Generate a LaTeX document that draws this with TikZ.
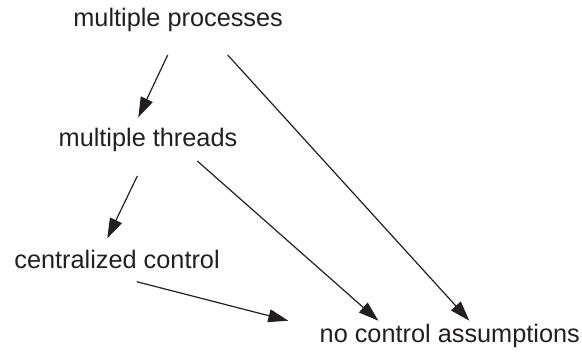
\documentclass[tikz,border=0pt]{standalone}
\usepackage{fontspec}
\setmainfont{Liberation Sans}
\usepackage{tikz}
\usetikzlibrary{arrows.meta,calc}
\definecolor{cInk}{HTML}{231F20}
\tikzset{
  >={Triangle[length=10pt,width=6.5pt]},
  lbl/.style ={anchor=base west,inner sep=0pt,text=cInk,
               font=\fontsize{12.65}{15}\selectfont},
  ar/.style  ={->,line width=0.6pt,cInk},
}
\begin{document}
\begin{tikzpicture}[x=0.5pt,y=-0.5pt]
\useasboundingbox (0,0) rectangle (582,355);
\node[lbl] (proc) at (73,26.7)   {multiple processes};
\node[lbl] (thr)  at (58.3,146.7) {multiple threads};
\node[lbl] (cent) at (14,268.3)  {centralized control};
\node[lbl] (noc)  at (319.3,342) {no control assumptions};
% refinement chain on the left
\draw[ar] ($(proc.base west)+(94.7,28.3)$) -- ($(thr.base west)+(80,-29.4)$);
\draw[ar] ($(thr.base west)+(79,29.3)$)    -- ($(cent.base west)+(93.3,-30)$);
% every level leads to the weakest model
\draw[ar] ($(proc.base west)+(154.7,28.3)$) -- ($(noc.base west)+(150,-21.3)$);
\draw[ar] ($(thr.base west)+(139,14.3)$)    -- ($(noc.base west)+(59,-21.3)$);
\draw[ar] ($(cent.base west)+(122.7,13.4)$) -- ($(noc.base west)+(-31,-21.3)$);
\end{tikzpicture}
\end{document}
